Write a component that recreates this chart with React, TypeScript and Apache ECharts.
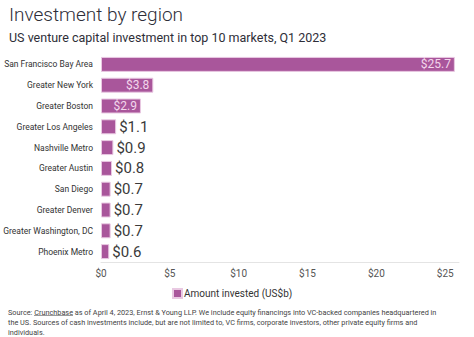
import React, { useEffect, useRef } from "react";
import * as echarts from "echarts";

const categories = [
  "San Francisco Bay Area",
  "Greater New York",
  "Greater Boston",
  "Greater Los Angeles",
  "Nashville Metro",
  "Greater Austin",
  "San Diego",
  "Greater Denver",
  "Greater Washington, DC",
  "Phoenix Metro",
];
const values = [25.7, 3.8, 2.9, 1.1, 0.9, 0.8, 0.7, 0.7, 0.7, 0.6];
const insideThreshold = 2;
const seriesName = "Amount invested (US$b)";
const xTicks = [0, 5, 10, 15, 20, 25];

const FONT = "Roboto, 'Noto Sans', sans-serif";
const BAR = "#a9569b";

export default function App() {
  const ref = useRef<HTMLDivElement>(null);
  useEffect(() => {
    if (!ref.current) return;
    const chart = echarts.init(ref.current, null, { renderer: "svg" });
    const data = values.map((v) => {
      const inside = v > insideThreshold;
      return {
        value: v,
        label: inside
          ? { position: "insideRight", color: "#f3d6ec", fontSize: 12, distance: 4 }
          : { position: "right", color: "#3a3a3a", fontSize: 15, distance: 3 },
      };
    });
    chart.setOption({
      animation: false,
      textStyle: { fontFamily: FONT },
      title: [
        {
          text: "Investment by region",
          left: 4,
          top: 0,
          textStyle: { fontFamily: FONT, fontSize: 19, fontWeight: 300, color: "#2e2e38" },
        },
        {
          text: "US venture capital investment in top 10 markets, Q1 2023",
          left: 4,
          top: 26,
          textStyle: { fontFamily: FONT, fontSize: 12.5, fontWeight: "normal", color: "#2e2e38" },
        },
      ],
      legend: {
        left: 167,
        top: 283,
        itemWidth: 9,
        itemHeight: 9,
        itemGap: 4,
        icon: "rect",
        textStyle: { fontFamily: FONT, fontSize: 10, color: "#333", padding: [0, 0, 0, -3] },
        data: [seriesName],
      },
      grid: { left: 101, right: 15, top: 54, bottom: 75, containLabel: false, outerBoundsMode: "none" },
      xAxis: {
        type: "value",
        min: 0,
        max: 26,
        interval: 5,
        splitLine: { show: false },
        axisLine: { show: true, lineStyle: { color: "#e4e4e4" } },
        axisTick: { show: false },
        axisLabel: {
          color: "#555",
          fontSize: 10,
          margin: 6,
          customValues: xTicks,
          formatter: (v: number) => "$" + v,
        },
      },
      yAxis: {
        type: "category",
        inverse: true,
        data: categories,
        axisLine: { show: false },
        axisTick: { show: false },
        axisLabel: { color: "#333", fontSize: 8.5, margin: 8 },
      },
      series: [
        {
          name: seriesName,
          type: "bar",
          barWidth: "72%",
          itemStyle: { color: BAR, borderColor: "#e9c9e2", borderWidth: 1 },
          label: {
            show: true,
            fontFamily: FONT,
            formatter: (p: any) => "$" + p.value.toFixed(1),
          },
          data,
        },
      ],
      graphic: [
        {
          type: "text",
          left: 8,
          top: 307,
          style: {
            text:
              "Source: Crunchbase as of April 4, 2023, Ernst & Young LLP. We include equity financings into VC-backed companies headquartered in\nthe US. Sources of cash investments include, but are not limited to, VC firms, corporate investors, other private equity firms and\nindividuals.",
            font: "7.3px Roboto, 'Noto Sans', sans-serif",
            fill: "#444",
            lineHeight: 10,
          },
        },
        {
          type: "line",
          shape: { x1: 34, y1: 315.5, x2: 73, y2: 315.5 },
          style: { stroke: "#555", lineWidth: 0.6 },
        },
      ],
    });
    return () => chart.dispose();
  }, []);
  return (
    <div
      ref={ref}
      style={{ position: "absolute", left: 0, top: 0, width: 474, height: 337 }}
    />
  );
}
